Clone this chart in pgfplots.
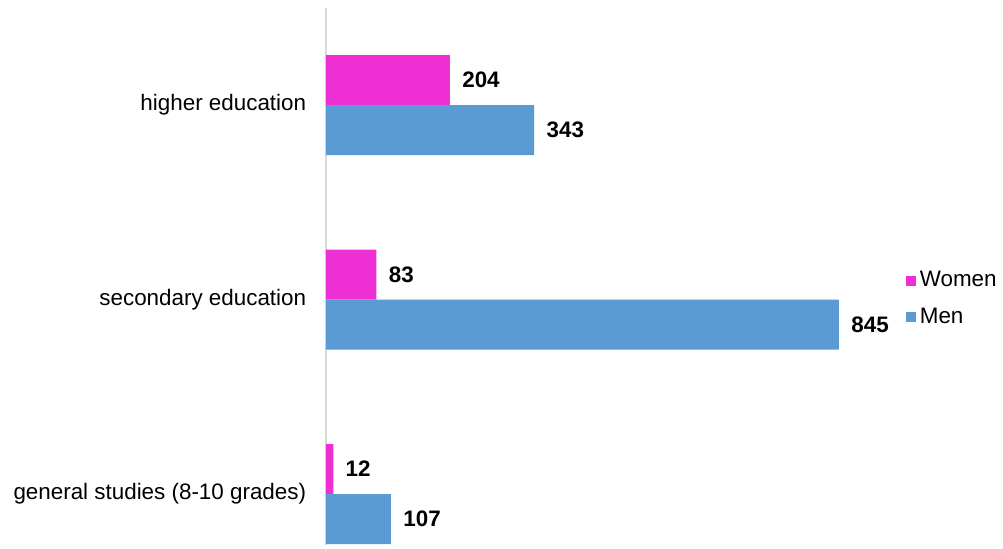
\documentclass[border=0pt]{standalone}
\usepackage{pgfplots}
\pgfplotsset{compat=1.18}
\usepackage{fontspec}
\setmainfont{Liberation Sans}
\definecolor{women}{RGB}{237,47,212}
\definecolor{men}{RGB}{91,155,213}
\definecolor{axisgray}{RGB}{217,217,217}
\begin{document}
\fontsize{11.2}{13.4}\selectfont
\begin{tikzpicture}
\useasboundingbox (0,0) rectangle (501.5pt,274.5pt);
\begin{axis}[
  at={(163pt,2pt)}, anchor=south west,
  scale only axis,
  width=273.2pt, height=268.5pt,
  xbar,
  xmin=0, xmax=900,
  ymin=-0.262, ymax=2.5,
  bar width=0.257,
  axis x line=none,
  axis y line*=left,
  y axis line style={axisgray, line width=0.6pt, -},
  ytick={0,1,2},
  yticklabels={general studies (8-10 grades), secondary education, higher education},
  major tick length=0pt,
  y tick label style={font=\fontsize{11.2}{13.4}\selectfont, xshift=-6pt},
  /pgf/number format/assume math mode=true,
  nodes near coords,
  nodes near coords style={font=\fontsize{11.2}{13.4}\selectfont\bfseries, anchor=west, xshift=2.3pt, black},
  legend style={at={(1.148,0.458)}, anchor=center, draw=none, fill=none,
    font=\fontsize{11.2}{13.4}\selectfont, row sep=5pt,
    legend cell align=left},
  legend image code/.code={\fill (0pt,-2.5pt) rectangle (5pt,2.5pt);},
  clip=false,
]
\addplot[fill=women, draw=none, bar shift=0.1285] coordinates {(12,0) (83,1) (204,2)};
\addplot[fill=men, draw=none, bar shift=-0.1285] coordinates {(107,0) (845,1) (343,2)};
\legend{Women, Men}
\end{axis}
\end{tikzpicture}
\end{document}
